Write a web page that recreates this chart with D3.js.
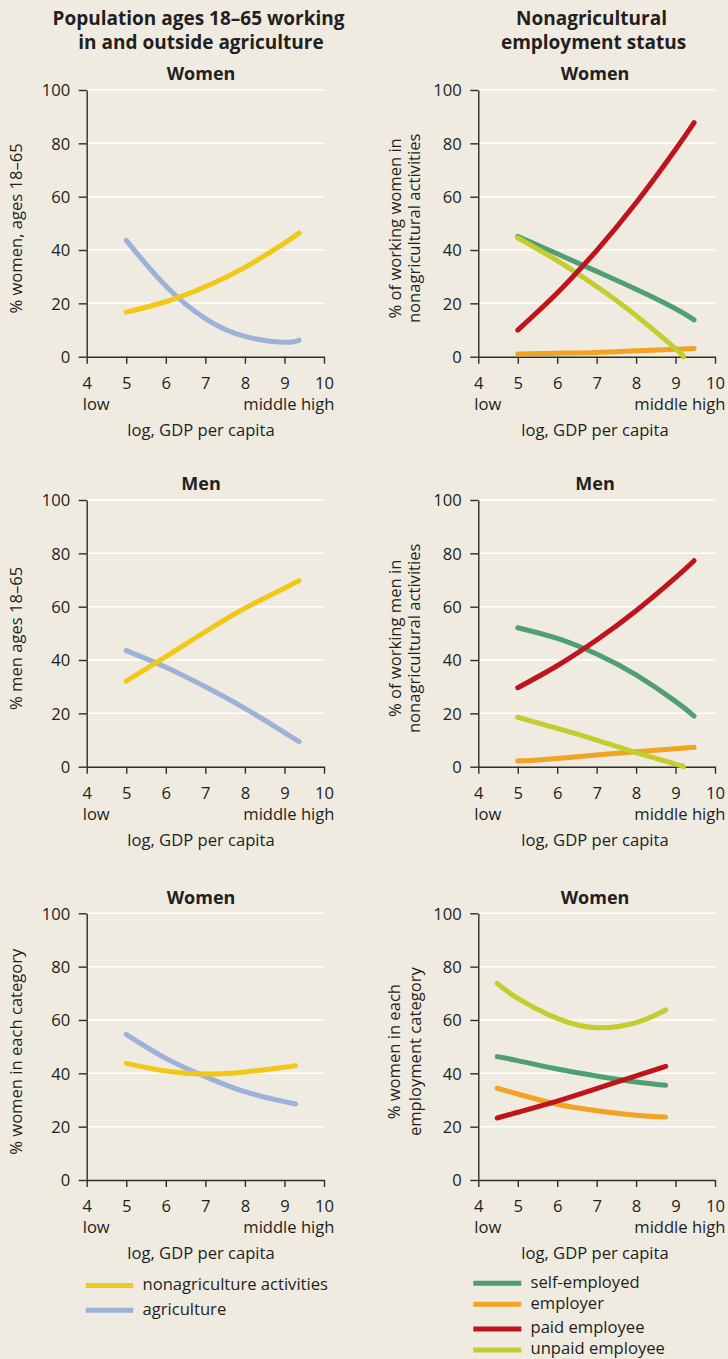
<!DOCTYPE html>
<html>
<head>
<meta charset="utf-8">
<script src="https://cdn.jsdelivr.net/npm/d3@7"></script>
<style>
  html, body { margin: 0; padding: 0; background: #efebe0; }
  svg { display: block; }
  text { font-family: "Open Sans", "Noto Sans", sans-serif; fill: #231f20; }
</style>
</head>
<body>
<svg id="chart" width="728" height="1359"></svg>
<script>
// ---------- data ----------
const xTicks = [4, 5, 6, 7, 8, 9, 10];
const yTicks = [0, 20, 40, 60, 80, 100];

// Panel A: women ages 18–65 working in/outside agriculture
const aX        = [5, 6, 7, 8, 9, 9.37];
const aNonagri  = [16.7, 20.6, 26.2, 33.5, 42.6, 46.4];
const aAgri     = [43.6, 26.5, 14.3, 7.6, 5.4, 6.2];

// Panel B: women nonagricultural employment status
const bX        = [5, 6, 7, 8, 9, 9.47];
const bSelf     = [45.1, 38.6, 32.0, 25.3, 18.0, 13.8];
const bEmployer = [1.0, 1.3, 1.6, 2.2, 2.8, 3.1];
const bPaid     = [10.0, 23.9, 39.8, 57.7, 77.7, 87.8];
const bUnpaidX  = [5, 6, 7, 8, 9, 9.2];
const bUnpaid   = [44.6, 36.0, 26.3, 15.4, 3.0, 0];

// Panel C: men ages 18–65
const cX        = [5, 6, 7, 8, 9, 9.37];
const cNonagri  = [32.1, 41.3, 50.6, 59.4, 66.9, 69.75];
const cAgri     = [43.5, 37.3, 30.0, 21.9, 12.8, 9.4];

// Panel D: men nonagricultural employment status
const dX        = [5, 6, 7, 8, 9, 9.47];
const dSelf     = [52.1, 48.1, 42.25, 34.4, 24.5, 19.0];
const dEmployer = [2.1, 3.1, 4.4, 5.6, 6.75, 7.25];
const dPaid     = [29.6, 37.85, 47.5, 58.5, 70.9, 77.25];
const dUnpaidX  = [5, 6, 7, 8, 9, 9.2];
const dUnpaid   = [18.5, 14.4, 10.0, 5.25, 1.0, 0];

// Panel E: % women in each category
const eX        = [5, 6, 7, 8, 9, 9.28];
const eNonagri  = [43.75, 40.9, 39.75, 40.5, 42.25, 42.9];
const eAgri     = [54.6, 45.6, 38.75, 33.1, 29.4, 28.5];

// Panel F: % women in each employment category
const fX        = [4.48, 5, 6, 7, 8, 8.75];
const fSelf     = [46.25, 44.75, 41.6, 39.0, 36.75, 35.5];
const fEmployer = [34.4, 32.25, 28.4, 26.0, 24.3, 23.6];
const fPaid     = [23.25, 25.4, 29.6, 34.3, 39.0, 42.6];
const fUnpaid   = [73.75, 68.1, 60.6, 57.1, 59.0, 63.75];

const leftLegendLabels  = ["nonagriculture activities", "agriculture"];
const rightLegendLabels = ["self-employed", "employer", "paid employee", "unpaid employee"];

// ---------- styles ----------
const C = {
  nonagri: "#f1c817",
  agri: "#9db2d8",
  self: "#4f9f73",
  employer: "#f1a323",
  paid: "#c0141d",
  unpaid: "#c3cd2d",
  axis: "#2f2c2b",
  grid: "#ffffff"
};
const FS = "16.6px";

const svg = d3.select("#chart");
svg.append("rect").attr("width", 728).attr("height", 1359).attr("fill", "#efebe0");

const LEFT = [86.7, 324], RIGHT = [478.3, 715];
const H = 266.7;

function panel(opts) {
  const x = d3.scaleLinear().domain([4, 10]).range(opts.xr);
  const y = d3.scaleLinear().domain([0, 100]).range([opts.top + H, opts.top]);
  const g = svg.append("g");

  // grid
  g.selectAll("line.grid").data(yTicks.filter(d => d > 0)).join("line")
    .attr("x1", opts.xr[0]).attr("x2", opts.xr[1])
    .attr("y1", d => y(d)).attr("y2", d => y(d))
    .attr("stroke", C.grid).attr("stroke-width", 1.5);

  // y axis
  const ya = g.append("g").attr("transform", `translate(${opts.xr[0]},0)`)
    .call(d3.axisLeft(y).tickValues(yTicks).tickFormat(d3.format("d"))
      .tickSize(8).tickSizeOuter(0).tickPadding(8.5));
  // x axis
  const xa = g.append("g").attr("transform", `translate(0,${opts.top + H})`)
    .call(d3.axisBottom(x).tickValues(xTicks).tickFormat(d3.format("d"))
      .tickSize(7).tickSizeOuter(0));
  [ya, xa].forEach(a => {
    a.select(".domain").attr("stroke", C.axis).attr("stroke-width", 1.4);
    a.selectAll(".tick line").attr("stroke", C.axis).attr("stroke-width", 1.4);
    a.selectAll(".tick text").attr("fill", "#231f20")
      .style("font-family", '"Open Sans", sans-serif').style("font-size", FS);
  });
  ya.selectAll(".tick text").attr("dy", "0.35em");
  xa.selectAll(".tick text").attr("y", 26.5).attr("dy", "0.35em");

  // low / middle high
  const by = opts.top + H;
  g.append("text").attr("x", opts.xr[0] - 4).attr("y", by + 47.5).attr("dy", "0.35em")
    .style("font-size", FS).text("low");
  g.append("text").attr("x", opts.xr[1] + 10.5).attr("y", by + 47.5).attr("dy", "0.35em")
    .attr("text-anchor", "end").style("font-size", FS).text("middle high");
  if (opts.xlabel) {
    g.append("text").attr("x", opts.cx).attr("y", by + 73.5).attr("dy", "0.35em")
      .attr("text-anchor", "middle").style("font-size", FS).text("log, GDP per capita");
  }

  // subtitle
  g.append("text").attr("x", opts.cx).attr("y", opts.top - 16).attr("dy", "0.35em")
    .attr("text-anchor", "middle").style("font-size", "18px").style("font-weight", "700")
    .text(opts.sub);

  // y label
  const ymid = opts.top + H / 2 + 5;
  opts.ylab.forEach((t, i) => {
    g.append("text")
      .attr("transform", `translate(${opts.ylabX[i]},${ymid}) rotate(-90)`)
      .attr("text-anchor", "middle").attr("dy", "0.35em")
      .style("font-size", FS).text(t);
  });

  // series
  const line = d3.line().x(d => x(d[0])).y(d => y(d[1])).curve(d3.curveNatural);
  opts.series.forEach(s => {
    g.append("path").datum(d3.zip(s.x, s.y))
      .attr("d", line).attr("fill", "none")
      .attr("stroke", s.color).attr("stroke-width", 5)
      .attr("stroke-linecap", "round").attr("stroke-linejoin", "round");
  });
}

// titles
[["Population ages 18–65 working", 198.5, 18.5], ["in and outside agriculture", 201, 42.5],
 ["Nonagricultural", 591.5, 18.5], ["employment status", 593.5, 42.5]].forEach(([t, x, y]) => {
  svg.append("text").attr("x", x).attr("y", y).attr("dy", "0.35em").attr("text-anchor", "middle")
    .style("font-size", "19px").style("font-weight", "700").text(t);
});

panel({ xr: LEFT, top: 90, cx: 201, sub: "Women", xlabel: true,
  ylab: ["% women, ages 18–65"], ylabX: [16.5],
  series: [{ x: aX, y: aAgri, color: C.agri }, { x: aX, y: aNonagri, color: C.nonagri }] });

panel({ xr: RIGHT, top: 90, cx: 595, sub: "Women", xlabel: true,
  ylab: ["% of working women in", "nonagricultural activities"], ylabX: [395.5, 414],
  series: [{ x: bX, y: bEmployer, color: C.employer }, { x: bX, y: bSelf, color: C.self },
           { x: bUnpaidX, y: bUnpaid, color: C.unpaid }, { x: bX, y: bPaid, color: C.paid }] });

panel({ xr: LEFT, top: 500, cx: 201, sub: "Men", xlabel: true,
  ylab: ["% men ages 18–65"], ylabX: [16.5],
  series: [{ x: cX, y: cAgri, color: C.agri }, { x: cX, y: cNonagri, color: C.nonagri }] });

panel({ xr: RIGHT, top: 500, cx: 595, sub: "Men", xlabel: true,
  ylab: ["% of working men in", "nonagricultural activities"], ylabX: [395.5, 414],
  series: [{ x: dX, y: dEmployer, color: C.employer }, { x: dUnpaidX, y: dUnpaid, color: C.unpaid },
           { x: dX, y: dSelf, color: C.self }, { x: dX, y: dPaid, color: C.paid }] });

panel({ xr: LEFT, top: 913.3, cx: 201, sub: "Women", xlabel: true,
  ylab: ["% women in each category"], ylabX: [16.5],
  series: [{ x: eX, y: eAgri, color: C.agri }, { x: eX, y: eNonagri, color: C.nonagri }] });

panel({ xr: RIGHT, top: 913.3, cx: 595, sub: "Women", xlabel: true,
  ylab: ["% women in each", "employment category"], ylabX: [394.5, 415.5],
  series: [{ x: fX, y: fUnpaid, color: C.unpaid }, { x: fX, y: fSelf, color: C.self },
           { x: fX, y: fEmployer, color: C.employer }, { x: fX, y: fPaid, color: C.paid }] });

// legends
const legL = [[leftLegendLabels[0], C.nonagri, 1285.5], [leftLegendLabels[1], C.agri, 1310.3]];
legL.forEach(([t, c, y]) => {
  svg.append("line").attr("x1", 85.7).attr("x2", 133.3).attr("y1", y).attr("y2", y)
    .attr("stroke", c).attr("stroke-width", 5);
  svg.append("text").attr("x", 142.5).attr("y", y - 1).attr("dy", "0.35em")
    .style("font-size", FS).text(t);
});
const legR = [[rightLegendLabels[0], C.self, 1283.3], [rightLegendLabels[1], C.employer, 1304.3],
              [rightLegendLabels[2], C.paid, 1329], [rightLegendLabels[3], C.unpaid, 1350]];
legR.forEach(([t, c, y]) => {
  svg.append("line").attr("x1", 473.3).attr("x2", 521.3).attr("y1", y).attr("y2", y)
    .attr("stroke", c).attr("stroke-width", 5);
  svg.append("text").attr("x", 530.5).attr("y", y - 1.5).attr("dy", "0.35em")
    .style("font-size", FS).text(t);
});
</script>
</body>
</html>
